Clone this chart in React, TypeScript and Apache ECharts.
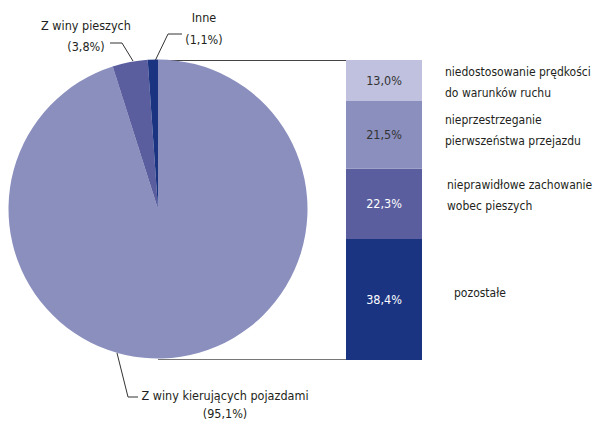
import React, { useEffect, useRef } from 'react';
import * as echarts from 'echarts';

// ---- data ----
const pieNames = ['Z winy kierujących pojazdami', 'Z winy pieszych', 'Inne'];
const pieValues = [95.1, 3.8, 1.1];
const pieColors = ['#8b8fbe', '#5a5e9e', '#1a3482'];

// bottom -> top of the stacked bar
const barNames = [
  'pozostałe',
  'nieprawidłowe zachowanie\nwobec pieszych',
  'nieprzestrzeganie\npierwszeństwa przejazdu',
  'niedostosowanie prędkości\ndo warunków ruchu',
];
const barValues = [38.4, 22.3, 21.5, 13.0];
const barColors = ['#1a3482', '#5a5e9e', '#8b8fbe', '#bfc1df'];
const barValueColors = ['#ffffff', '#ffffff', '#333333', '#333333'];

// ---- layout (styles / positions only) ----
const FONT = '"Liberation Sans Narrow", "DejaVu Sans Condensed", sans-serif';
const TEXT = '#231f20';
const CX = 158;
const CY = 209;
const R = 149.5;
const BAR_LEFT = 346;
const BAR_TOP = 60;
const BAR_W = 76;
const BAR_H = 300;
const nameDistance = [32, 25, 23, 23];
const nameOffsetY = [-6.5, -8, -4, 2.5];

const pieLabelLayout = [
  { x: 225, y: 404, lh: 18, line: [[117, 353], [128, 397], [138, 397]] },
  { x: 86, y: 35.5, lh: 21, line: [[133, 61], [122, 43], [110, 43]] },
  { x: 204, y: 28, lh: 22, line: [[155, 61], [168, 34], [182, 34]] },
];

const fmt = (v: number) => v.toFixed(1).replace('.', ',') + '%';

export default function App() {
  const ref = useRef<HTMLDivElement>(null);

  useEffect(() => {
    if (!ref.current) return;
    const chart = echarts.init(ref.current, undefined, { renderer: 'svg' });
    const total = barValues.reduce((a, b) => a + b, 0);

    const series: any[] = [
      {
        type: 'pie',
        center: [CX, CY],
        radius: R,
        startAngle: 90,
        clockwise: true,
        silent: true,
        avoidLabelOverlap: false,
        minShowLabelAngle: 0,
        itemStyle: { borderWidth: 0 },
        data: pieNames.map((n, i) => ({
          name: n,
          value: pieValues[i],
          itemStyle: { color: pieColors[i] },
          label: { lineHeight: pieLabelLayout[i].lh },
        })),
        label: {
          show: true,
          position: 'outside',
          alignTo: 'none',
          overflow: 'none',
          formatter: (p: any) => `${p.name}\n(${fmt(p.value)})`,
          fontFamily: FONT,
          fontSize: 12.5,
          color: TEXT,
          align: 'center',
        },
        labelLine: { show: true, lineStyle: { color: '#333333', width: 1 } },
        labelLayout: (p: any) => {
          const l = pieLabelLayout[p.dataIndex];
          return {
            x: l.x,
            y: l.y,
            align: 'center',
            verticalAlign: 'middle',
            hideOverlap: false,
            labelLinePoints: l.line,
          };
        },
        z: 3,
      },
    ];

    barValues.forEach((v, i) => {
      series.push({
        type: 'bar',
        stack: 'values',
        barWidth: '100%',
        silent: true,
        data: [v],
        itemStyle: { color: barColors[i] },
        label: {
          show: true,
          position: 'inside',
          formatter: () => fmt(v),
          color: barValueColors[i],
          fontFamily: FONT,
          fontSize: 12.5,
        },
      });
    });
    barValues.forEach((v, i) => {
      series.push({
        type: 'bar',
        stack: 'names',
        barWidth: '100%',
        barGap: '-100%',
        silent: true,
        data: [v],
        itemStyle: { color: 'rgba(0,0,0,0)' },
        label: {
          show: true,
          position: 'right',
          distance: nameDistance[i],
          offset: [0, nameOffsetY[i]],
          formatter: () => barNames[i],
          color: TEXT,
          fontFamily: FONT,
          fontSize: 12,
          lineHeight: 21,
          align: 'left',
        },
      });
    });

    chart.setOption({
      animation: false,
      backgroundColor: '#ffffff',
      grid: { left: BAR_LEFT, top: BAR_TOP, width: BAR_W, height: BAR_H, containLabel: false },
      xAxis: { type: 'category', data: ['a'], show: false },
      yAxis: { type: 'value', min: 0, max: total, show: false },
      graphic: [
        {
          type: 'line',
          z: 0,
          shape: { x1: CX, y1: BAR_TOP + 0.5, x2: BAR_LEFT, y2: BAR_TOP + 0.5 },
          style: { stroke: '#444444', lineWidth: 1 },
        },
        {
          type: 'line',
          z: 0,
          shape: { x1: CX, y1: BAR_TOP + BAR_H - 0.5, x2: BAR_LEFT, y2: BAR_TOP + BAR_H - 0.5 },
          style: { stroke: '#777777', lineWidth: 1.2 },
        },
      ],
      series,
    });

    return () => chart.dispose();
  }, []);

  return (
    <div
      ref={ref}
      style={{ position: 'fixed', left: 0, top: 0, width: 605, height: 422 }}
    />
  );
}
